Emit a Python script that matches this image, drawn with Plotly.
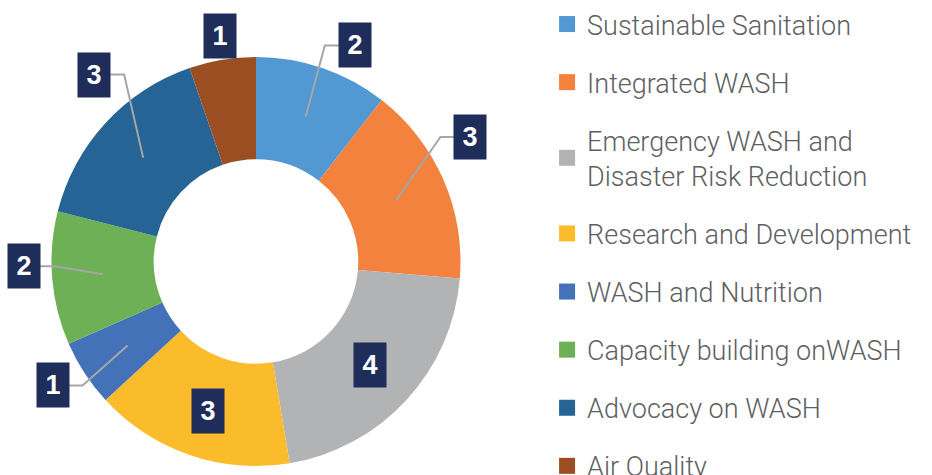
import math
import plotly.graph_objects as go

# ---- data ----
categories = ["Sustainable Sanitation", "Integrated WASH",
              "Emergency WASH and<br>Disaster Risk Reduction",
              "Research and Development", "WASH and Nutrition",
              "Capacity building onWASH", "Advocacy on WASH", "Air Quality"]
values = [2, 3, 4, 3, 1, 2, 3, 1]
colors = ["#5298D2", "#F2823E", "#B2B3B5", "#FBBC2C",
          "#4472B8", "#6EB055", "#256494", "#9A4E22"]

# ---- style / layout (pixels) ----
W, H = 932, 475
CX, CY, R = 256, 261.5, 204.5
HOLE = 0.5
ANCHOR_R = 0.75 * R
# label box offsets from slice anchor (px) and whether a leader line is drawn
label_offsets = [(49, -71, True), (74, -63, True), (1, 0, False), (2, 4, False),
                 (-75, 40, True), (-79, -8, True), (-49, -83, True), (-11, -74, False)]
BOX_W, BOX_H = 32, 44
ELBOW = 14
NAVY = "#1F2D5A"
LINE_GRAY = "#A6A6A6"


def to_paper(px, py):
    return px / W, 1 - py / H


fig = go.Figure()
x0, y1 = to_paper(CX - R, CY - R)
x1, y0 = to_paper(CX + R, CY + R)
fig.add_trace(go.Pie(
    values=values, labels=categories, hole=HOLE, sort=False,
    direction="clockwise", rotation=0, textinfo="none",
    marker=dict(colors=colors, line=dict(width=0)),
    domain=dict(x=[x0, x1], y=[y0, y1]), showlegend=False, hoverinfo="label+value",
))

# legend entries (one group per category so spacing can be controlled)
for i, (cat, col) in enumerate(zip(categories, colors)):
    fig.add_trace(go.Scatter(
        x=[None], y=[None], mode="markers", name=cat, legendgroup=f"g{i}",
        marker=dict(symbol="square", size=16, color=col), hoverinfo="skip",
    ))

total = sum(values)
cum = 0
annotations = []
shapes = []
for v, (dx, dy, leader) in zip(values, label_offsets):
    mid = (cum + v / 2) / total * 2 * math.pi
    cum += v
    ax = CX + ANCHOR_R * math.sin(mid)
    ay = CY - ANCHOR_R * math.cos(mid)
    bx, by = ax + dx, ay + dy
    px, py = to_paper(bx, by)
    annotations.append(dict(
        x=px, y=py, xref="paper", yref="paper", text=f"<b>{v}</b>",
        showarrow=False, xanchor="center", yanchor="middle",
        width=BOX_W, height=BOX_H, bgcolor=NAVY, borderpad=0,
        font=dict(family="Arial", size=27, color="white"),
    ))
    if leader:
        side = -1 if dx > 0 else 1
        edge_x = bx + side * BOX_W / 2
        elbow_x = edge_x + side * ELBOW
        pts = [to_paper(ax, ay), to_paper(elbow_x, by), to_paper(edge_x, by)]
        path = "M {} {} L {} {} L {} {}".format(*[c for p in pts for c in p])
        shapes.append(dict(type="path", path=path, xref="paper", yref="paper",
                           line=dict(color=LINE_GRAY, width=2)))

fig.update_layout(
    width=W, height=H, margin=dict(l=0, r=0, t=0, b=0),
    paper_bgcolor="white", plot_bgcolor="white",
    xaxis=dict(visible=False), yaxis=dict(visible=False),
    annotations=annotations, shapes=shapes,
    legend=dict(x=0.587, y=1.0, xanchor="left", yanchor="top",
                traceorder="grouped", tracegroupgap=20, maxheight=1000,
                font=dict(family="Roboto", size=27, color="#5E5F62", weight=300),
                bgcolor="rgba(0,0,0,0)"),
)
fig.write_html("out.html", config={"displayModeBar": False},
               post_script="document.body.style.margin='0px';document.body.style.overflow='hidden';")
